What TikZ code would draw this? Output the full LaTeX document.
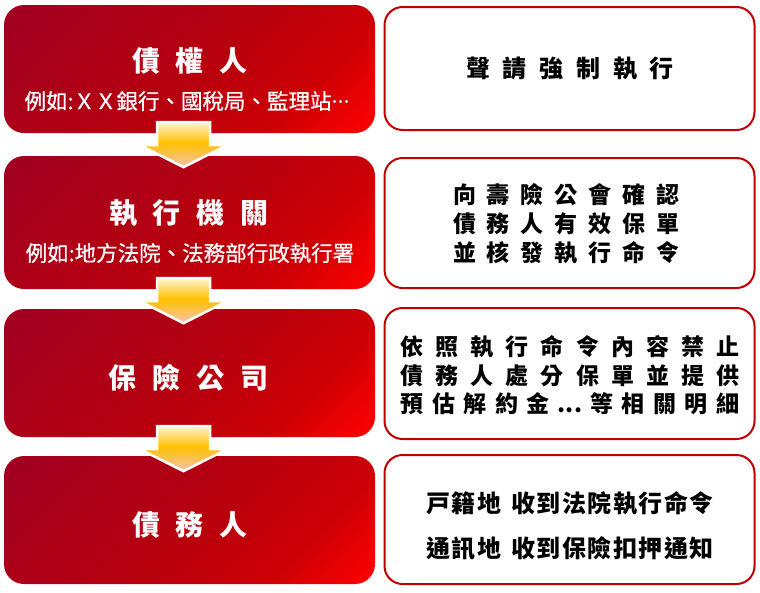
\documentclass[tikz,border=0pt]{standalone}
\usepackage{fontspec}
\setmainfont{Noto Sans CJK TC}
\newfontfamily\medfont{Noto Sans CJK TC}[FakeBold=0.6]
\usetikzlibrary{calc}
\definecolor{rA}{RGB}{160,0,34}
\definecolor{rB}{RGB}{186,0,12}
\definecolor{rC}{RGB}{205,0,5}
\definecolor{rD}{RGB}{255,0,0}
\definecolor{bordred}{RGB}{192,0,0}
\definecolor{aP}{RGB}{244,196,176}
\definecolor{aG}{RGB}{255,192,0}
\definecolor{aC}{RGB}{255,243,205}
\pgfdeclarehorizontalshading{redgrad}{100bp}{color(0bp)=(rA); color(15bp)=(rA); color(55bp)=(rB); color(70bp)=(rC); color(85bp)=(rD); color(100bp)=(rD)}
\pgfdeclareverticalshading{arrgrad}{100bp}{color(0bp)=(aP); color(25bp)=(aP); color(52bp)=(aG); color(75bp)=(aC); color(100bp)=(aC)}
\newlength\gp
\newcommand\g{\kern\gp}
\newcommand\f{\hfil}
\tikzset{
  leftbox/.style={rectangle, rounded corners=20pt, shade, shading=redgrad, shading angle=-45, minimum width=371pt, inner sep=0pt, draw=none},
  rightbox/.style={rectangle, rounded corners=18pt, draw=bordred, line width=2pt, fill=white, minimum width=370pt, inner sep=0pt},
  ttl/.style={text=white, font=\fontsize{28}{32}\selectfont\bfseries, inner sep=0pt},
  subt/.style={text=white, font=\medfont\fontsize{21.5}{24}\selectfont, inner sep=0pt},
  rtxt/.style={text=black, inner sep=0pt},
  arrowsty/.style={draw=white, line width=2.5pt, shade, shading=arrgrad, line join=miter}
}
\newcommand\blockarrow[1]{%
  \draw[arrowsty, shift={(#1)}] (-26.5,-11) -- (26.5,-11) -- (26.5,12) -- (43.5,12) -- (0,34) -- (-43.5,12) -- (-26.5,12) -- cycle;}
\begin{document}
\begin{tikzpicture}[x=1pt,y=-1pt]
\useasboundingbox (0,0) rectangle (760,592);
% left boxes
\node[leftbox, minimum height=128pt] (b1) at (189.5,69) {};
\node[leftbox, minimum height=133pt] (b2) at (189.5,222.5) {};
\node[leftbox, minimum height=128pt] (b3) at (189.5,373) {};
\node[leftbox, minimum height=128pt] (b4) at (189.5,520) {};
% right boxes
\node[rightbox, minimum height=123pt] (r1) at (569.5,68.5) {};
\node[rightbox, minimum height=130pt] (r2) at (569.5,223) {};
\node[rightbox, minimum height=131pt] (r3) at (569.5,373.5) {};
\node[rightbox, minimum height=129pt] (r4) at (569.5,519.5) {};
% arrows between the left boxes
\coordinate (a1) at ([xshift=-6pt]b1.south);
\coordinate (a2) at ([xshift=-6pt]b2.south);
\coordinate (a3) at ([xshift=-6pt]b3.south);
\blockarrow{a1}
\blockarrow{a2}
\blockarrow{a3}
% left texts
\node[ttl] (t1) at (190,60.5) {\setlength\gp{16pt}債\g 權\g 人};
\node[subt] (s1) at (187,101) {例如:ＸＸ銀行、國稅局、監理站\raisebox{0.3em}{...}};
\node[ttl] (t2) at (189,213) {\setlength\gp{16pt}執\g 行\g 機\g 關};
\node[subt] (s2) at (190,253) {例如:地方法院、法務部行政執行署};
\node[ttl] (t3) at (188.5,378) {\setlength\gp{16pt}保\g 險\g 公\g 司};
\node[ttl] (t4) at (190,525) {\setlength\gp{16pt}債\g 務\g 人};
% right texts
\node[rtxt, font=\fontsize{24}{28}\selectfont\bfseries] (q1) at (570,68.5) {\setlength\gp{12.8pt}聲\g 請\g 強\g 制\g 執\g 行};
\node[rtxt, font=\fontsize{23}{29}\selectfont\bfseries, align=center] (q2) at (566,224) {\hbox to 226pt{向\f 壽\f 險\f 公\f 會\f 確\f 認}\\\hbox to 226pt{債\f 務\f 人\f 有\f 效\f 保\f 單}\\\hbox to 226pt{並\f 核\f 發\f 執\f 行\f 命\f 令}};
\node[rtxt, font=\fontsize{23}{28.5}\selectfont\bfseries, align=center] (q3) at (570,375.5) {\hbox to 339pt{依\f 照\f 執\f 行\f 命\f 令\f 內\f 容\f 禁\f 止}\\\hbox to 339pt{債\f 務\f 人\f 處\f 分\f 保\f 單\f 並\f 提\f 供}\\\hbox to 339pt{預\f 估\f 解\f 約\f 金\f \hbox to 23pt{\hss...\hss}\f 等\f 相\f 關\f 明\f 細}};
\node[rtxt, font=\fontsize{24}{45}\selectfont\bfseries, align=center] (q4) at (570,525.5) {\setlength\gp{1.5pt}戸\g 籍\g 地\hspace{10pt}收\g 到\g 法\g 院\g 執\g 行\g 命\g 令\\\setlength\gp{1.5pt}通\g 訊\g 地\hspace{10pt}收\g 到\g 保\g 險\g 扣\g 押\g 通\g 知};
\end{tikzpicture}
\end{document}
